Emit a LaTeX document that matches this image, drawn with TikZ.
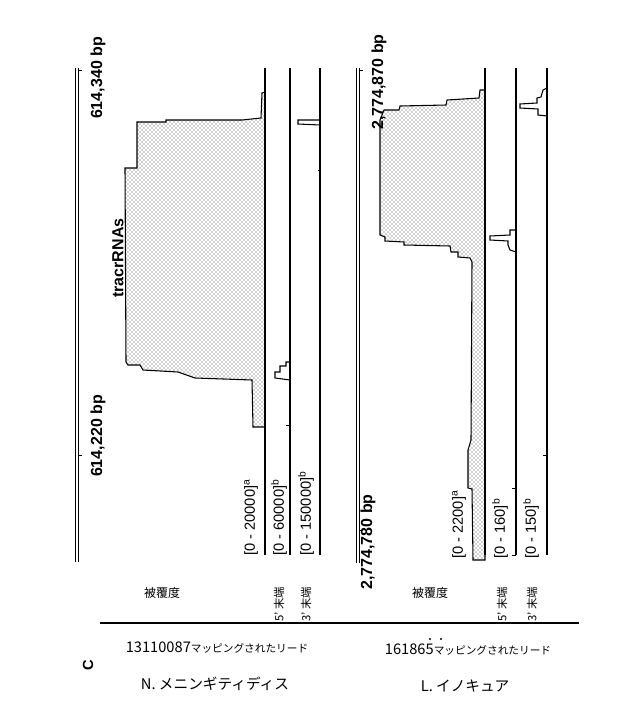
\documentclass[tikz,border=0pt]{standalone}
\usepackage{fontspec}
\setmainfont{Liberation Sans}
\newfontfamily\jp{Noto Sans CJK JP}
\usetikzlibrary{patterns}
\begin{document}
\begin{tikzpicture}[x=0.75pt,y=-0.75pt,
  bp/.style={font=\bfseries\fontsize{12}{14}\selectfont,rotate=90,inner sep=0},
  rng/.style={font=\fontsize{11}{12}\selectfont,rotate=90,inner sep=0,anchor=west},
  jpl/.style={font=\jp\fontsize{9}{10}\selectfont,inner sep=0},
  endl/.style={font=\jp\fontsize{8.5}{10}\selectfont,rotate=90,inner sep=0},
  trk/.style={line width=0.8pt},
  dbl/.style={line width=0.7pt},
  cov/.style={draw,line width=0.8pt,pattern=crosshatch dots,pattern color=black!75}]
\path[fill=white,use as bounding box] (0,0) rectangle (640,728);
% left panel
\draw[dbl] (75,68) -- (75,562) (78,68) -- (78,562);
\draw (78,70) -- (82,70) (78,455) -- (82,455);
\node[bp] (l1) at (98,78) {614,340 bp};
\node[bp] (l2) at (98,436) {614,220 bp};
\node[bp] (tr) at (118,258) {tracrRNAs};
\draw[trk] (265,68) -- (265,555);
\draw[trk] (290,68) -- (290,555);
\draw[trk] (320,68) -- (320,555);
\draw[cov] (265,92) -- (262,93) -- (261,118) -- (242,120) -- (166,120) -- (166,122) -- (137,122) -- (137,168) -- (125,168) -- (126,362) -- (128,365) -- (140,365) -- (143,370) -- (178,372) -- (195,378) -- (252,380) -- (253,427) -- (265,427) -- cycle;
\draw[trk] (290,362) -- (286,362) -- (286,366) -- (280,366) -- (280,372) -- (275,372) -- (275,378) -- (290,380);
\draw[trk] (320,120) -- (298,120) -- (298,124) -- (320,125);
\draw (320,170) -- (318,170) (290,425) -- (286,425);
\node[rng] (r1) at (251,556) {[0 - 20000]$^{\mathrm{a}}$};
\node[rng] (r2) at (279,556) {[0 - 60000]$^{\mathrm{b}}$};
\node[rng] (r3) at (306,556) {[0 - 150000]$^{\mathrm{b}}$};
\node[jpl] (c1) at (162,593) {被覆度};
\node[endl] (e1) at (279,604) {5’ 末端};
\node[endl] (e2) at (306,604) {3’ 末端};
% right panel
\draw[dbl] (356,68) -- (356,563) (359,68) -- (359,563);
\draw (359,70) -- (363,70) (359,530) -- (363,530);
\node[bp] (l3) at (379,82) {2,774,870 bp};
\node[bp] (l4) at (368,542) {2,774,780 bp};
\draw[trk] (485,68) -- (485,555);
\draw[trk] (516,68) -- (516,555);
\draw[trk] (547,68) -- (547,555);
\draw[cov] (485,90) -- (480,90) -- (479,98) -- (447,100) -- (446,105) -- (400,106) -- (399,110) -- (384,110) -- (380,120) -- (380,235) -- (385,237) -- (385,241) -- (404,242) -- (404,245) -- (450,246) -- (451,252) -- (458,252) -- (458,257) -- (470,258) -- (472,262) -- (471,440) -- (468,450) -- (468,488) -- (472,489) -- (473,560) -- (485,560) -- cycle;
\draw[trk] (516,230) -- (510,230) -- (510,235) -- (490,236) -- (490,240) -- (508,241) -- (508,245) -- (510,250) -- (516,252);
\draw[trk] (547,88) -- (543,90) -- (541,97) -- (537,98) -- (537,103) -- (520,104) -- (520,108) -- (538,109) -- (538,115) -- (547,116);
\draw (516,488) -- (512,488) (547,455) -- (543,455) (516,555) -- (512,555);
\node[rng] (r4) at (459,559) {[0 - 2200]$^{\mathrm{a}}$};
\node[rng] (r5) at (500,559) {[0 - 160]$^{\mathrm{b}}$};
\node[rng] (r6) at (531,559) {[0 - 150]$^{\mathrm{b}}$};
\node[jpl] (c2) at (430,593) {被覆度};
\node[endl] (e3) at (502,604) {5’ 末端};
\node[endl] (e4) at (532,604) {3’ 末端};
% bottom
\draw[line width=0.9pt] (100,623) -- (579,623);
\node[jpl] (m1) at (217,648) {{\fontsize{11}{12}\selectfont 13110087}{\fontsize{8}{9}\selectfont マッピングされたリード}};
\node[jpl,font=\jp\fontsize{11}{12}\selectfont] (n1) at (215,684) {N. メニンギティディス};
\node[jpl] (m2) at (468,650) {{\fontsize{11}{12}\selectfont 161865}{\fontsize{8}{9}\selectfont マッピングされたリード}};
\fill (430,639) circle (1.1) (441,639) circle (1.1);
\node[jpl,font=\jp\fontsize{11}{12}\selectfont] (n2) at (465,686) {L. イノキュア};
\node[bp,font=\bfseries\fontsize{11}{12}\selectfont] (cc) at (88,665) {C};
\end{tikzpicture}
\end{document}
